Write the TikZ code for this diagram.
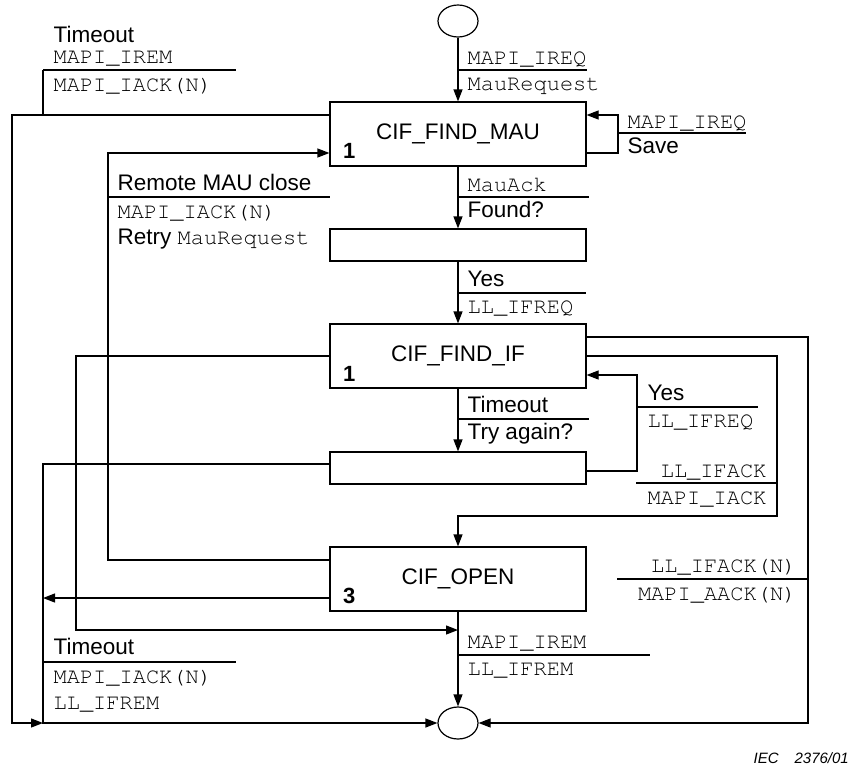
\documentclass[tikz,border=0pt]{standalone}
\usepackage{fontspec}
\setmainfont{Liberation Sans}
\setsansfont{Liberation Sans}
\setmonofont{TeX Gyre Cursor}
\usetikzlibrary{arrows.meta,shapes.geometric}
\tikzset{
  stbox/.style={draw, minimum width=256pt, minimum height=64pt, inner sep=0pt},
  decbox/.style={draw, minimum width=256pt, minimum height=32pt, inner sep=0pt},
  term/.style={draw, ellipse, minimum width=40pt, minimum height=32pt, inner sep=0pt},
  arr/.style={-{Triangle[length=12pt,width=9pt]}},
  sig/.style={font=\ttfamily\fontsize{22}{25}\selectfont, inner sep=0pt},
  txt/.style={inner sep=0pt},
  num/.style={font=\bfseries\fontsize{22}{25}\selectfont, inner sep=0pt, anchor=base west}
}
\begin{document}
\begin{tikzpicture}[x=1pt, y=-1pt, line width=1.2pt, font=\fontsize{22.5}{26}\selectfont]
    \useasboundingbox (0,0) rectangle (859,766);

    \node[term] (start) at (458,21) {};
    \node[stbox] (findmau) at (458,134) {CIF\_FIND\_MAU};
    \node[decbox] (found) at (458,245) {};
    \node[stbox] (findif) at (458,356) {CIF\_FIND\_IF};
    \node[decbox] (again) at (458,468) {};
    \node[stbox] (open) at (458,579) {CIF\_OPEN};
    \node[term] (stop) at (458,723) {};

    \node[num] (n1) at ([shift={(13pt,8pt)}]findmau.south west) {1};
    \node[num] (n2) at ([shift={(13pt,7pt)}]findif.south west) {1};
    \node[num] (n3) at ([shift={(13pt,8pt)}]open.south west) {3};

    \coordinate (join) at (458,630);
    \coordinate (lft) at (43,598);
    \coordinate (corner) at (43,723);

    % transitions
    \draw[arr] (start) -- (findmau);
    \draw[arr] (findmau.east |- 0,153) -- (618,153) -- (618,115) -- (findmau.east |- 0,115);
    \draw[arr] (findmau) -- (found);
    \draw[arr] (found) -- (findif);
    \draw[arr] (findif) -- (again);
    \draw[arr] (again.east |- 0,471) -- (637,471) -- (637,375) -- (findif.east |- 0,375);
    \draw[arr] (findif.east) -- (777,356) -- (777,516) -| (open.north);
    \draw[arr] (findif.east |- 0,337) -- (808,337) |- (stop.east);
    \draw[arr] (open) -- (stop);
    \draw[arr] (findif.west) -- (76,356) |- (join);
    \draw[arr] (open.west |- 0,560) -- (108,560) |- (findmau.west |- 0,153);
    \draw[arr] (open.west |- 0,598) -- (lft);
    \draw[arr] (again.west |- 0,464) -- (43,464) |- (stop.west);
    \draw[arr] (findmau.west |- 0,115) -- (12,115) |- (corner);
    \draw (43,70) -- (43,115);

    % label bars
    \foreach \xa/\xb/\y in {43/236/70, 458/587/70, 618/746/133, 108/330/197,
        458/589/197, 458/586/293, 458/589/419, 637/758/407, 636/777/483,
        617/808/579, 458/650/655, 43/236/662}{
      \draw (\xa,\y) -- (\xb,\y);
    }

    \node[txt, anchor=base west] (l1) at (53,42) {Timeout};
    \node[sig, anchor=base west] (l2) at (53,63) {MAPI\_IREM};
    \node[sig, anchor=base west] (l3) at (53,91) {MAPI\_IACK(N)};

    \node[sig, anchor=base west] (l4) at (467,64) {MAPI\_IREQ};
    \node[sig, anchor=base west] (l5) at (467,90) {MauRequest};

    \node[sig, anchor=base west] (l6) at (627,128) {MAPI\_IREQ};
    \node[txt, anchor=base west] (l7) at (627,153) {Save};

    \node[txt, anchor=base west] (l8) at (117,190) {Remote MAU close};
    \node[sig, anchor=base west] (l9) at (117,218) {MAPI\_IACK(N)};
    \node[txt, anchor=base west] (l10) at (117,244) {Retry {\ttfamily\fontsize{22}{25}\selectfont MauRequest}};

    \node[sig, anchor=base west] (l11) at (467,191) {MauAck};
    \node[txt, anchor=base west] (l12) at (467,217) {Found?};

    \node[txt, anchor=base west] (l13) at (467,286) {Yes};
    \node[sig, anchor=base west] (l14) at (467,313) {LL\_IFREQ};

    \node[txt, anchor=base west] (l15) at (467,412) {Timeout};
    \node[txt, anchor=base west] (l16) at (467,439) {Try again?};

    \node[txt, anchor=base west] (l17) at (647,400) {Yes};
    \node[sig, anchor=base west] (l18) at (647,427) {LL\_IFREQ};

    \node[sig, anchor=base east] (l19) at (767,477) {LL\_IFACK};
    \node[sig, anchor=base east] (l20) at (767,504) {MAPI\_IACK};

    \node[sig, anchor=base east] (l21) at (797,572) {LL\_IFACK(N)};
    \node[sig, anchor=base east] (l22) at (797,600) {MAPI\_AACK(N)};

    \node[sig, anchor=base west] (l23) at (467,648) {MAPI\_IREM};
    \node[sig, anchor=base west] (l24) at (467,675) {LL\_IFREM};

    \node[txt, anchor=base west] (l25) at (53,654) {Timeout};
    \node[sig, anchor=base west] (l26) at (53,683) {MAPI\_IACK(N)};
    \node[sig, anchor=base west] (l27) at (53,709) {LL\_IFREM};

    \node[inner sep=0pt, anchor=base west, font=\itshape\fontsize{15}{18}\selectfont] (iec) at (753,763) {IEC\hspace{16pt}2376/01};
\end{tikzpicture}
\end{document}
